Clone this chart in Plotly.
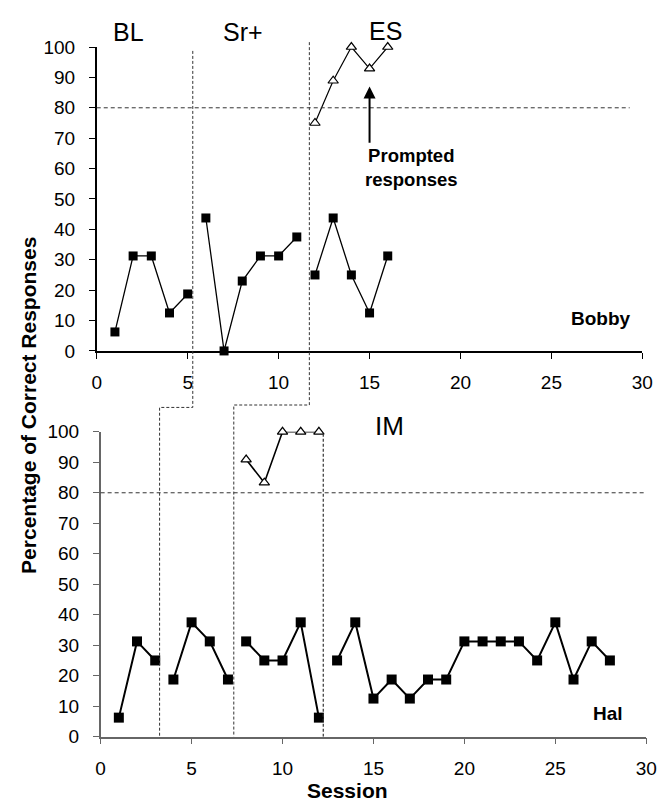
import plotly.graph_objects as go

# ---------------- data ----------------
bobby_bl_x = [1, 2, 3, 4, 5]
bobby_bl_y = [6.25, 31.25, 31.25, 12.5, 18.75]
bobby_sr_x = [6, 7, 8, 9, 10, 11]
bobby_sr_y = [43.75, 0, 23, 31.25, 31.25, 37.5]
bobby_es_x = [12, 13, 14, 15, 16]
bobby_es_y = [25, 43.75, 25, 12.5, 31.25]
bobby_prompt_x = [12, 13, 14, 15, 16]
bobby_prompt_y = [75, 88.9, 100, 92.9, 100]

hal_bl_x = [1, 2, 3]
hal_bl_y = [6.25, 31.25, 25]
hal_sr_x = [4, 5, 6, 7]
hal_sr_y = [18.75, 37.5, 31.25, 18.75]
hal_es_x = [8, 9, 10, 11, 12]
hal_es_y = [31.25, 25, 25, 37.5, 6.25]
hal_prompt_x = [8, 9, 10, 11, 12]
hal_prompt_y = [90.9, 83.3, 100, 100, 100]
hal_im_x = list(range(13, 29))
hal_im_y = [25, 37.5, 12.5, 18.75, 12.5, 18.75, 18.75, 31.25, 31.25, 31.25,
            31.25, 25, 37.5, 18.75, 31.25, 25]

x_ticks = [0, 5, 10, 15, 20, 25, 30]
y_ticks = [0, 10, 20, 30, 40, 50, 60, 70, 80, 90, 100]

# phase-change positions (session units)
bobby_phase = [5.28, 11.69]
hal_phase = [3.24, 7.32, 12.24]
criterion = 80

# ---------------- layout geometry ----------------
W, H = 668, 811
X1_DOM = [94 / W, 653 / W]
Y1_DOM = [1 - 350 / H, 1 - 38 / H]
X2_DOM = [98 / W, 657 / W]
Y2_DOM = [1 - 746 / H, 1 - 433 / H]
XR = [0, 30]
YR = [0, 100]


def xpaper(v, dom):
    return dom[0] + (v - XR[0]) / (XR[1] - XR[0]) * (dom[1] - dom[0])


fig = go.Figure()

FONT = "Liberation Sans, Arial, sans-serif"


def add_line(x, y, xa, ya, width, size):
    fig.add_trace(go.Scatter(
        x=x, y=y, xaxis=xa, yaxis=ya, mode="lines+markers",
        line=dict(color="black", width=width),
        marker=dict(symbol="square", size=size, color="black"),
        cliponaxis=False, showlegend=False, hoverinfo="x+y"))


def add_tri(x, y, xa, ya, width):
    fig.add_trace(go.Scatter(
        x=x, y=y, xaxis=xa, yaxis=ya, mode="lines+markers",
        line=dict(color="black", width=width),
        marker=dict(symbol="triangle-up", size=9, color="white",
                    line=dict(color="black", width=1.2)),
        cliponaxis=False, showlegend=False, hoverinfo="x+y"))


# Bobby
add_line(bobby_bl_x, bobby_bl_y, "x", "y", 1.3, 9)
add_line(bobby_sr_x, bobby_sr_y, "x", "y", 1.3, 9)
add_line(bobby_es_x, bobby_es_y, "x", "y", 1.3, 9)
add_tri(bobby_prompt_x, bobby_prompt_y, "x", "y", 1.2)
# Hal
add_line(hal_bl_x, hal_bl_y, "x2", "y2", 2, 10)
add_line(hal_sr_x, hal_sr_y, "x2", "y2", 2, 10)
add_line(hal_es_x, hal_es_y, "x2", "y2", 2, 10)
add_line(hal_im_x, hal_im_y, "x2", "y2", 2, 10)
add_tri(hal_prompt_x, hal_prompt_y, "x2", "y2", 1.6)

shapes = []
DASH_H = "4px,3px"
DASH_V = "3px,2px"
LC = "#333"

# criterion lines
shapes.append(dict(type="line", xref="paper", yref="y", x0=X1_DOM[0], x1=640 / W,
                   y0=criterion, y1=criterion, line=dict(color=LC, width=1, dash=DASH_H)))
shapes.append(dict(type="line", xref="paper", yref="y2", x0=X2_DOM[0], x1=X2_DOM[1],
                   y0=criterion, y1=criterion, line=dict(color=LC, width=1, dash=DASH_H)))

# staggered phase lines
tops = [1 - 42 / H, 1 - 33 / H]
steps = [1 - 408 / H, 1 - 405.5 / H]
for i in range(2):
    xt = xpaper(bobby_phase[i], X1_DOM)
    xb = xpaper(hal_phase[i], X2_DOM)
    path = f"M {xt} {tops[i]} L {xt} {steps[i]} L {xb} {steps[i]} L {xb} {Y2_DOM[0]}"
    shapes.append(dict(type="path", xref="paper", yref="paper", path=path,
                       line=dict(color=LC, width=1, dash=DASH_V)))
shapes.append(dict(type="line", xref="x2", yref="y2", x0=hal_phase[2], x1=hal_phase[2],
                   y0=0, y1=100, line=dict(color=LC, width=1.2, dash=DASH_V)))

annotations = []


def txt(text, x, y, xref, yref, size, bold=False, **kw):
    annotations.append(dict(
        text=f"<b>{text}</b>" if bold else text, x=x, y=y, xref=xref, yref=yref,
        showarrow=False, font=dict(family=FONT, size=size, color="black"),
        xanchor="center", yanchor="middle", **kw))


txt("BL", 1.77, 1 - 23 / H, "x", "paper", 25)
txt("Sr+", 8.05, 1 - 23 / H, "x", "paper", 25)
txt("ES", 15.9, 1 - 22 / H, "x", "paper", 25)
txt("IM", 15.9, 1 - 427 / H, "x2", "paper", 26)
txt("Prompted<br>responses", 17.3, 60.4, "x", "y", 18.5, bold=True)
txt("Bobby", 27.7, 10.6, "x", "y", 19, bold=True)
txt("Hal", 27.9, 7.7, "x2", "y2", 19, bold=True)
txt("Percentage of Correct Responses", 24 / W, 1 - 406 / H, "paper", "paper", 21,
    bold=True, textangle=-90)
txt("Session", 13.6, 1 - 801 / H, "x2", "paper", 21, bold=True)

# arrow
annotations.append(dict(x=15, y=87, ax=15, ay=68, xref="x", yref="y", axref="x", ayref="y",
                        text="", showarrow=True, arrowhead=2, arrowsize=1.2,
                        arrowwidth=2, arrowcolor="black"))

axis_common = dict(range=XR, tickvals=x_ticks, ticks="outside", ticklen=6, tickwidth=1.3,
                   showline=True, linewidth=1.5, showgrid=False, zeroline=False,
                   tickfont=dict(family=FONT, size=19, color="#000"), ticklabelstandoff=8)
yaxis_common = dict(range=YR, tickvals=y_ticks, ticks="outside", ticklen=6, tickwidth=1.3,
                    showline=True, linewidth=1.5, showgrid=False, zeroline=False,
                    tickfont=dict(family=FONT, size=19, color="#000"), ticklabelstandoff=10)

fig.update_layout(
    width=W, height=H, margin=dict(l=0, r=0, t=0, b=0),
    paper_bgcolor="white", plot_bgcolor="white", showlegend=False,
    xaxis=dict(domain=X1_DOM, anchor="y", linecolor="black", tickcolor="black", **axis_common),
    yaxis=dict(domain=Y1_DOM, anchor="x", linecolor="black", tickcolor="black", **yaxis_common),
    xaxis2=dict(domain=X2_DOM, anchor="y2", linecolor="#666", tickcolor="#666", **axis_common),
    yaxis2=dict(domain=Y2_DOM, anchor="x2", linecolor="#666", tickcolor="#666", **yaxis_common),
    shapes=shapes, annotations=annotations,
)

fig.write_html("out.html")
